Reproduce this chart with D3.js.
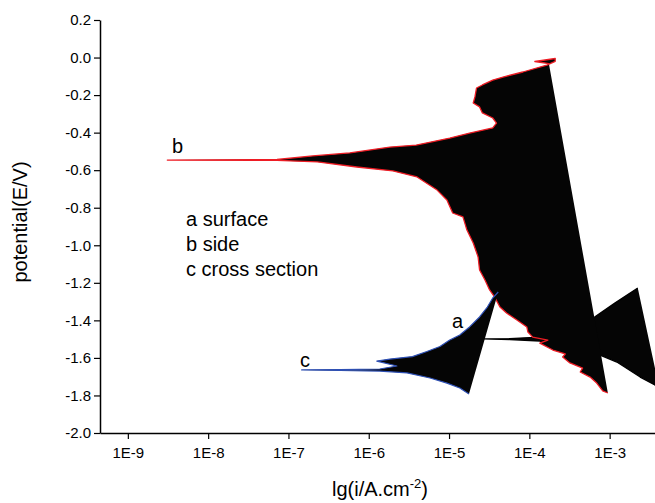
<!DOCTYPE html>
<html>
<head>
<meta charset="utf-8">
<script src="https://cdn.jsdelivr.net/npm/d3@7"></script>
<style>
  body { margin: 0; background: #fff; }
  svg text { font-family: "Liberation Sans", Arial, sans-serif; fill: #000; }
</style>
</head>
<body>
<svg id="chart" width="655" height="503"></svg>
<script>
// polarization curves, [current density (A/cm2), potential (V)] in scan order
// a - surface
const curveA = [
  [4.2e-3, -1.771], [3.66e-3, -1.744], [2.4e-3, -1.702], [1.23e-3, -1.622],
  [7.6e-4, -1.585], [4.3e-4, -1.563], [2.4e-4, -1.537], [1.35e-4, -1.510],
  [5.7e-5, -1.502], [2.7e-5, -1.499], [5.7e-5, -1.497], [1.35e-4, -1.489],
  [2.4e-4, -1.462], [4.3e-4, -1.425], [6.5e-4, -1.382], [1.16e-3, -1.308],
  [2.24e-3, -1.228]
];

// b - side
const curveB = [
  [9.5e-4, -1.787], [8.2e-4, -1.776], [6.9e-4, -1.734], [5.7e-4, -1.702],
  [4.3e-4, -1.675], [4.6e-4, -1.654], [3.2e-4, -1.627], [2.6e-4, -1.595],
  [2.8e-4, -1.579], [1.96e-4, -1.558], [1.35e-4, -1.521], [1.7e-4, -1.505],
  [1.1e-4, -1.489], [9.6e-5, -1.462], [9.3e-5, -1.435], [7.0e-5, -1.398],
  [5.2e-5, -1.361], [4.3e-5, -1.329], [3.7e-5, -1.276], [3.2e-5, -1.238],
  [2.8e-5, -1.185], [2.4e-5, -1.132], [2.3e-5, -1.062], [2.0e-5, -0.988],
  [1.67e-5, -0.919], [1.49e-5, -0.849], [1.11e-5, -0.828], [9.4e-6, -0.759],
  [7.1e-6, -0.706], [4.0e-6, -0.636], [2.0e-6, -0.604], [7.1e-7, -0.583],
  [2.3e-7, -0.556], [7.2e-8, -0.548], [3.1e-9, -0.546], [7.2e-8, -0.543],
  [2.0e-7, -0.524], [5.8e-7, -0.508], [1.83e-6, -0.477], [3.9e-6, -0.466],
  [1.02e-5, -0.429], [1.8e-5, -0.402], [3.5e-5, -0.375], [3.9e-5, -0.349],
  [3.5e-5, -0.322], [2.6e-5, -0.295], [2.4e-5, -0.263], [2.0e-5, -0.242],
  [2.1e-5, -0.210], [2.2e-5, -0.162], [2.6e-5, -0.146], [3.5e-5, -0.120],
  [4.7e-5, -0.104], [8.3e-5, -0.077], [1.65e-4, -0.040], [2.1e-4, -0.020],
  [2.1e-4, -0.005], [1.17e-4, -0.021], [1.75e-4, -0.032]
];

// c - cross section
const curveC = [
  [1.77e-5, -1.792], [1.36e-5, -1.760], [9.4e-6, -1.734], [5.8e-6, -1.707],
  [3.0e-6, -1.680], [1.37e-6, -1.670], [4.4e-7, -1.667], [1.46e-7, -1.664],
  [4.4e-7, -1.662], [1.37e-6, -1.659], [2.24e-6, -1.643], [1.26e-6, -1.617],
  [1.83e-6, -1.606], [3.5e-6, -1.593], [5.3e-6, -1.566], [7.7e-6, -1.539],
  [1.02e-5, -1.505], [1.36e-5, -1.478], [1.8e-5, -1.435], [2.4e-5, -1.382],
  [3.0e-5, -1.329], [3.5e-5, -1.281], [4.1e-5, -1.249]
];

const yTicks = [0.2, 0.0, -0.2, -0.4, -0.6, -0.8, -1.0, -1.2, -1.4, -1.6, -1.8, -2.0];
const xTicks = [1e-9, 1e-8, 1e-7, 1e-6, 1e-5, 1e-4, 1e-3];
const xTickLabels = ["1E-9", "1E-8", "1E-7", "1E-6", "1E-5", "1E-4", "1E-3"];
const legendLines = ["a surface", "b side", "c cross section"];

const svg = d3.select("#chart");
svg.append("rect").attr("width", 655).attr("height", 503).attr("fill", "#fff");

// log axis, one decade is about 80 px
const xDomain = [4.5e-10, 1e-2];
const decadePx = 80.3;
const x = d3.scaleLog()
  .domain(xDomain)
  .range([100, 100 + Math.log10(xDomain[1] / xDomain[0]) * decadePx]);
const y = d3.scaleLinear().domain([-2.0, 0.2]).range([433, 20]);

// minor ticks: 2..9 in every decade
const xMinor = [];
for (let e = -10; e <= -3; e++) {
  for (let k = 2; k <= 9; k++) {
    const v = k * Math.pow(10, e);
    if (v >= xDomain[0] && v <= xDomain[1]) xMinor.push(v);
  }
}
const yMinor = yTicks.slice(1).map(v => v + 0.1);

const plot = svg.append("g");

function drawCurve(data, strokeColor, strokeWidth) {
  const line = d3.line().x(d => x(d[0])).y(d => y(d[1]));
  // Origin-style fill: polygon closed from the last point back to the first
  plot.append("path")
    .attr("d", line(data) + "Z")
    .attr("fill", "#050505")
    .attr("stroke", "none");
  plot.append("path")
    .attr("d", line(data))
    .attr("fill", "none")
    .attr("stroke", strokeColor)
    .attr("stroke-width", strokeWidth)
    .attr("stroke-linejoin", "round");
}

drawCurve(curveA, "#000", 1.3);
drawCurve(curveB, "#ee1c24", 1.3);
drawCurve(curveC, "#2d4fb4", 1.2);

// axes
const xAxis = svg.append("g").attr("transform", "translate(0,433)");
xAxis.call(d3.axisBottom(x).tickValues(xMinor).tickSize(3).tickSizeOuter(0).tickFormat(""));
xAxis.call(d3.axisBottom(x).tickValues(xTicks).tickSize(6).tickSizeOuter(0)
  .tickFormat((d, i) => xTickLabels[i]));
xAxis.selectAll("text").attr("font-size", 15).attr("dy", "1.05em");

const yAxis = svg.append("g").attr("transform", "translate(100,0)");
yAxis.call(d3.axisLeft(y).tickValues(yMinor).tickSize(3).tickSizeOuter(0).tickFormat(""));
yAxis.call(d3.axisLeft(y).tickValues(yTicks).tickSize(6).tickSizeOuter(0)
  .tickFormat(d => d.toFixed(1)));
yAxis.selectAll("text").attr("font-size", 15);
svg.selectAll(".domain").attr("stroke-width", 1.5);
svg.selectAll(".tick line").attr("stroke-width", 1.2);

// axis titles
const xt = svg.append("text")
  .attr("x", 380).attr("y", 496)
  .attr("text-anchor", "middle")
  .attr("font-size", 20);
xt.append("tspan").text("lg(i/A.cm");
xt.append("tspan").attr("dy", -8).attr("font-size", 13).text("-2");
xt.append("tspan").attr("dy", 8).text(")");

svg.append("text")
  .attr("transform", "translate(27,222) rotate(-90)")
  .attr("text-anchor", "middle")
  .attr("font-size", 20)
  .text("potential(E/V)");

// curve labels
svg.append("text").attr("x", 172).attr("y", 153).attr("font-size", 20).text("b");
svg.append("text").attr("x", 300).attr("y", 367).attr("font-size", 20).text("c");
svg.append("text").attr("x", 452).attr("y", 328).attr("font-size", 20).text("a");

// legend text
svg.append("g").selectAll("text")
  .data(legendLines)
  .join("text")
  .attr("x", 186)
  .attr("y", (d, i) => 226 + i * 25)
  .attr("font-size", 20)
  .text(d => d);
</script>
</body>
</html>
